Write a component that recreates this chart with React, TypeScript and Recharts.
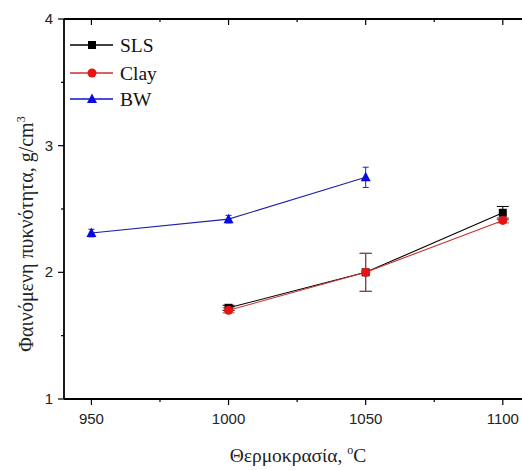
import { LineChart, Line, XAxis, YAxis, ErrorBar } from 'recharts'

const temps = [950, 1000, 1050, 1100]
const sls = [null, 1.72, 2.0, 2.47]
const slsErr = [null, 0.02, 0.15, 0.05]
const clay = [null, 1.7, 2.0, 2.41]
const clayErr = [null, 0.02, 0.15, 0.02]
const bw = [2.31, 2.42, 2.75, null]
const bwErr = [0.03, 0.03, 0.08, null]

const xTicks = [950, 975, 1000, 1025, 1050, 1075, 1100]
const xLabels = [950, 1000, 1050, 1100]
const yTicks = [1, 1.5, 2, 2.5, 3, 3.5, 4]
const yLabels = [1, 2, 3, 4]

const data = temps.map((t, i) => ({
  t,
  sls: sls[i],
  slsErr: slsErr[i],
  clay: clay[i],
  clayErr: clayErr[i],
  bw: bw[i],
  bwErr: bwErr[i],
}))

const sans = 'Liberation Sans, Arial, sans-serif'
const serif = 'Liberation Serif, Tinos, DejaVu Serif, Noto Serif, serif'

const BottomTick = ({ x, y, payload }: any) => {
  const major = xLabels.includes(payload.value)
  return (
    <g>
      <line x1={x} x2={x} y1={y} y2={y + (major ? 6 : 3)} stroke="#000" strokeWidth={1.2} />
      {major && (
        <text x={x} y={y + 25} textAnchor="middle" style={{ fontFamily: sans }} fontSize={15} fill="#222">
          {payload.value}
        </text>
      )}
    </g>
  )
}

const TopTick = ({ x, y, payload }: any) => {
  const major = xLabels.includes(payload.value)
  return <line x1={x} x2={x} y1={y} y2={y + (major ? 6 : 3)} stroke="#000" strokeWidth={1.2} />
}

const LeftTick = ({ x, y, payload }: any) => {
  const major = yLabels.includes(payload.value)
  return (
    <g>
      <line x1={x - (major ? 6 : 3)} x2={x} y1={y} y2={y} stroke="#000" strokeWidth={1.2} />
      {major && (
        <text x={x - 11} y={y + 5} textAnchor="end" style={{ fontFamily: sans }} fontSize={15} fill="#222">
          {payload.value}
        </text>
      )}
    </g>
  )
}

const Square = (p: any) => {
  if (p.cy == null || p.value == null) return <g key={p.key} />
  return <rect key={p.key} x={p.cx - 4} y={p.cy - 4} width={8} height={8} fill="#000" />
}
const Dot = (p: any) => {
  if (p.cy == null || p.value == null) return <g key={p.key} />
  return <circle key={p.key} cx={p.cx} cy={p.cy} r={4.5} fill="#e81414" />
}
const Tri = (p: any) => {
  if (p.cy == null || p.value == null) return <g key={p.key} />
  return (
    <polygon
      key={p.key}
      points={`${p.cx},${p.cy - 5.5} ${p.cx - 5},${p.cy + 4} ${p.cx + 5},${p.cy + 4}`}
      fill="#0a0ae0"
    />
  )
}

export default function App() {
  return (
    <div style={{ position: 'absolute', left: 0, top: 0, width: 522, height: 470, overflow: 'hidden', background: '#fff' }}>
      <LineChart width={522} height={470} data={data} margin={{ top: 18, right: 0, bottom: 0, left: 0 }}>
        <XAxis
          dataKey="t"
          type="number"
          domain={[940, 1107]}
          ticks={xTicks}
          height={71}
          tickSize={0}
          tickMargin={0}
          tick={<BottomTick />}
          axisLine={{ stroke: '#000', strokeWidth: 1.8 }}
          interval={0}
        />
        <XAxis
          xAxisId="top"
          orientation="top"
          dataKey="t"
          type="number"
          domain={[940, 1107]}
          ticks={xTicks}
          height={1}
          tickSize={0}
          tickMargin={0}
          tick={<TopTick />}
          axisLine={{ stroke: '#000', strokeWidth: 1.8 }}
          interval={0}
        />
        <YAxis
          type="number"
          domain={[1, 4]}
          ticks={yTicks}
          width={64}
          tickSize={0}
          tickMargin={0}
          tick={<LeftTick />}
          axisLine={{ stroke: '#000', strokeWidth: 1.8 }}
          interval={0}
        />
        <Line dataKey="sls" stroke="#000" strokeWidth={1.1} dot={Square} activeDot={false} isAnimationActive={false}>
          <ErrorBar dataKey="slsErr" direction="y" width={6} stroke="#000" strokeWidth={1} />
        </Line>
        <Line dataKey="clay" stroke="#c83030" strokeWidth={1.1} dot={Dot} activeDot={false} isAnimationActive={false}>
          <ErrorBar dataKey="clayErr" direction="y" width={6} stroke="#a04848" strokeWidth={1} />
        </Line>
        <Line dataKey="bw" stroke="#2020a8" strokeWidth={1.1} dot={Tri} activeDot={false} isAnimationActive={false}>
          <ErrorBar dataKey="bwErr" direction="y" width={3} stroke="#2020a8" strokeWidth={1} />
        </Line>
      </LineChart>
      <svg width={522} height={470} style={{ position: 'absolute', left: 0, top: 0, pointerEvents: 'none', fontFamily: serif }}>
        <g fontSize={19.5} fill="#111">
          <line x1={70} x2={113} y1={45} y2={45} stroke="#000" strokeWidth={1.3} />
          <rect x={88} y={41} width={8} height={8} fill="#000" />
          <text x={120} y={52}>SLS</text>
          <line x1={70} x2={113} y1={73} y2={73} stroke="#c83030" strokeWidth={1.3} />
          <circle cx={92} cy={73} r={4.5} fill="#e81414" />
          <text x={120} y={80}>Clay</text>
          <line x1={70} x2={113} y1={99} y2={99} stroke="#1010d0" strokeWidth={1.3} />
          <polygon points="92,93.5 87,103 97,103" fill="#0a0ae0" />
          <text x={120} y={106}>BW</text>
        </g>
        <text x={298} y={462} textAnchor="middle" fontSize={19.5} fill="#222">
          Θερμοκρασία, <tspan fontSize={12} dy={-8}>o</tspan>
          <tspan dy={8}>C</tspan>
        </text>
        <text transform="translate(33,234) rotate(-90)" textAnchor="middle" fontSize={20} fill="#222">
          Φαινόμενη πυκνότητα, g/cm<tspan fontSize={12} dy={-8}>3</tspan>
        </text>
      </svg>
    </div>
  )
}
